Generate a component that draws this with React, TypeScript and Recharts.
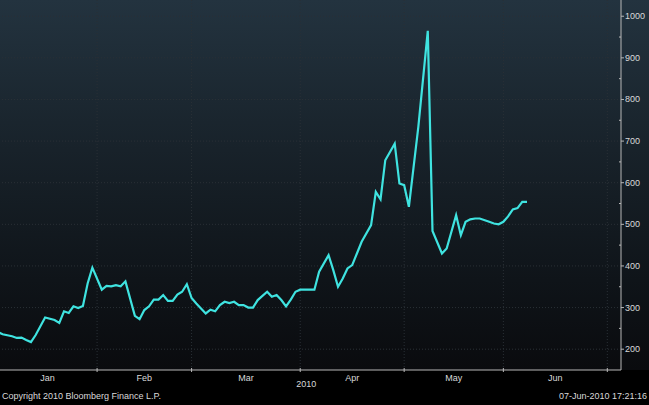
import React from "react";
import { LineChart, Line, XAxis, YAxis, ReferenceLine } from "recharts";

// weekday index counted from Fri 1-Jan-2010
const days = [
  0, 1, 3, 4, 5, 6, 7, 8, 10, 12, 13, 14, 15, 16, 17, 18, 19, 20, 22, 23,
  24, 25, 26, 27, 29, 30, 31, 32, 33, 34, 35, 36, 37, 38, 39, 40, 41, 42, 43, 44,
  45, 46, 47, 48, 49, 50, 51, 52, 53, 54, 55, 57, 58, 59, 60, 61, 62, 63, 64, 67,
  68, 70, 71, 72, 73, 74, 75, 76, 77, 79, 80, 81, 82, 84, 85, 86, 87, 89, 91, 92,
  94, 95, 97, 98, 99, 100, 101, 102, 104, 105, 106, 107, 108, 109, 110, 111, 112,
];
const values = [
  241, 236, 231, 227, 228, 222, 217, 234, 276, 270, 263, 291, 287, 303, 299, 304, 358, 396, 343, 352,
  351, 354, 351, 363, 280, 272, 294, 303, 319, 319, 330, 316, 316, 331, 338, 356, 323, 310, 298, 286,
  295, 291, 306, 314, 311, 314, 306, 306, 300, 300, 318, 338, 326, 330, 318, 303, 319, 338, 343, 343,
  386, 426, 390, 350, 370, 394, 402, 430, 458, 498, 578, 560, 654, 694, 598, 594, 542, 734, 965, 484,
  430, 442, 522, 474, 506, 512, 514, 514, 506, 502, 500, 506, 519, 536, 539, 554, 554,
];

const monthNames = ["Jan", "Feb", "Mar", "Apr", "May", "Jun"];
const monthMids = [10.5, 31, 52.5, 75, 96.5, 118];
const monthStarts = [21, 41, 64, 86, 107, 129];
const yearLabel = "2010";
const yearAt = 64;

const majorTicks = [200, 300, 400, 500, 600, 700, 800, 900, 1000];
const minorTicks = [250, 350, 450, 550, 650, 750, 850, 950];

const data = days.map((d, i) => ({ day: d, value: values[i] }));

const LINE = "#3fe3e0";
const TEXT = "#d9d9d9";
const AXIS = "#b8b8b8";
const GRID = "#2a3036";
const FONT = "'Liberation Sans', Arial, sans-serif";

function XTick(props: any) {
  const { x, y, payload } = props;
  const v = payload.value;
  const axisY = y;
  const mi = monthMids.indexOf(v);
  if (mi >= 0) {
    return (
      <text x={x} y={axisY + 11} textAnchor="middle" fill={TEXT} fontSize={9} fontFamily={FONT}>
        {monthNames[mi]}
      </text>
    );
  }
  return (
    <g>
      <line x1={x} x2={x} y1={axisY - 2} y2={axisY + 2} stroke={AXIS} strokeWidth={1} />
      {v === yearAt && (
        <text x={x + 6} y={axisY + 17} textAnchor="middle" fill={TEXT} fontSize={9} fontFamily={FONT}>
          {yearLabel}
        </text>
      )}
    </g>
  );
}

function YTick(props: any) {
  const { x, y, payload } = props;
  const v = payload.value;
  if (minorTicks.includes(v)) {
    return <line x1={x - 2} x2={x} y1={y} y2={y} stroke={AXIS} strokeWidth={1} />;
  }
  return (
    <g>
      <line x1={x} x2={x + 3} y1={y} y2={y} stroke={AXIS} strokeWidth={1} />
      <text x={x + 4} y={y + 3} textAnchor="start" fill={TEXT} fontSize={9} fontFamily={FONT}>
        {v}
      </text>
    </g>
  );
}

export default function App() {
  const xTicks = [...monthMids, ...monthStarts].sort((a, b) => a - b);
  const yTicks = [...majorTicks, ...minorTicks].sort((a, b) => a - b);
  return (
    <div
      style={{
        position: "absolute",
        left: 0,
        top: 0,
        width: 649,
        height: 405,
        background:
          "linear-gradient(to bottom, #23333f 0px, #18222a 150px, #0f1419 280px, #0a0b0e 370px, #000 370px, #000 405px)",
        fontFamily: FONT,
      }}
    >
      <LineChart width={649} height={405} data={data} margin={{ top: 0, right: 0, left: 0, bottom: 0 }}>
        {majorTicks.map((t) => (
          <ReferenceLine key={`h${t}`} y={t} stroke={GRID} strokeDasharray="1 2" strokeWidth={1} />
        ))}
        {monthStarts.map((m) => (
          <ReferenceLine key={`v${m}`} x={m} stroke={GRID} strokeDasharray="1 2" strokeWidth={1} />
        ))}
        <XAxis
          dataKey="day"
          type="number"
          domain={[0.45, 131.9]}
          allowDataOverflow
          ticks={xTicks}
          interval={0}
          tickLine={false}
          tickSize={0}
          tickMargin={0}
          tick={<XTick />}
          height={35}
          axisLine={{ stroke: AXIS, strokeWidth: 1 }}
        />
        <YAxis
          orientation="right"
          type="number"
          domain={[150, 1039]}
          allowDataOverflow
          ticks={yTicks}
          interval={0}
          tickLine={false}
          tickSize={0}
          tickMargin={0}
          tick={<YTick />}
          width={28}
          axisLine={{ stroke: AXIS, strokeWidth: 1 }}
        />
        <Line
          type="linear"
          dataKey="value"
          stroke={LINE}
          strokeWidth={2.2}
          dot={false}
          isAnimationActive={false}
        />
      </LineChart>
      <div style={{ position: "absolute", left: 2, top: 391, fontSize: 9, color: TEXT, whiteSpace: "nowrap" }}>
        Copyright 2010 Bloomberg Finance L.P.
      </div>
      <div style={{ position: "absolute", right: 2, top: 391, fontSize: 9, color: TEXT, whiteSpace: "nowrap" }}>
        07-Jun-2010 17:21:16
      </div>
    </div>
  );
}
